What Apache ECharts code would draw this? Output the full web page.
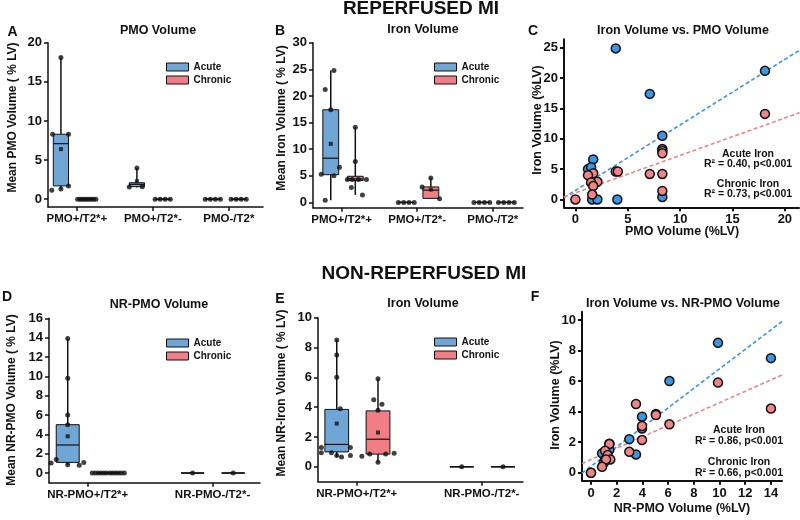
<!DOCTYPE html>
<html><head><meta charset="utf-8">
<script src="https://cdn.jsdelivr.net/npm/echarts@6/dist/echarts.min.js"></script>
<style>html,body{margin:0;padding:0;background:#fff}#c{width:800px;height:520px}</style>
</head><body><div id="c"></div><script>
// ---------- DATA ----------
// Box stats: [min, q1, median, q3, max]; points: [categoryIndex, value, jitterSlot]
const catsA = ['PMO+/T2*+', 'PMO+/T2*-', 'PMO-/T2*'];
const ticksA_y = [0, 5, 10, 15, 20];
const boxA_acute = [[1.3,1.7,7.1,8.3,18.1],[1.5,1.6,1.9,2.1,4.0],[0,0,0,0,0]];
const boxA_chronic = [[0,0,0,0,0],[0,0,0,0,0],[0,0,0,0,0]];
const meanA_acute = [6.4, 2.3, null];
const meanA_chronic = [null, null, null];
const ptsA_acute = [[0,18.1,0],[0,8.3,-1.1],[0,8.3,1],[0,1.7,1],[0,1.3,0],[0,1.15,-1.2],
  [1,4.0,0],[1,1.55,-1],[1,1.6,0.7],[2,0,-1],[2,0,-0.33],[2,0,0.33],[2,0,1]];
const ptsA_chronic = [[0,0,-1.2],[0,0,-0.9],[0,0,-0.6],[0,0,-0.3],[0,0,0],[0,0,0.3],[0,0,0.6],[0,0,0.9],[0,0,1.2],
  [1,0,-1],[1,0,-0.33],[1,0,0.33],[1,0,1],[2,0,-1],[2,0,-0.33],[2,0,0.33],[2,0,1]];

const catsB = ['PMO+/T2*+', 'PMO+/T2*-', 'PMO-/T2*'];
const ticksB_y = [0, 5, 10, 15, 20, 25, 30];
const boxB_acute = [[0.4,5.2,8.3,17.4,24.8],[0,0,0,0,0],[0,0,0,0,0]];
const boxB_chronic = [[1.4,4.1,4.4,4.9,14.1],[0.7,0.75,2.3,2.9,4.6],[0,0,0,0,0]];
const meanB_acute = [11.0, null, null];
const meanB_chronic = [null, 2.4, null];
const ptsB_acute = [[0,24.8,0.4],[0,21.2,-0.7],[0,17.4,0],[0,6.6,1.1],[0,5.3,-1.2],[0,5.0,0.4],[0,0.4,-0.7],
  [1,0,-1],[1,0,-0.33],[1,0,0.33],[1,0,1],[2,0,-1],[2,0,-0.33],[2,0,0.33],[2,0,1]];
const ptsB_chronic = [[0,14.1,0],[0,7.7,0],[0,4.3,-1],[0,4.3,-0.4],[0,4.3,0.4],[0,4.3,1.4],[0,2.8,-0.5],[0,1.4,0.9],
  [1,4.6,0],[1,2.9,-1.1],[1,0.7,1.1],[2,0,-1],[2,0,-0.33],[2,0,0.33],[2,0,1]];

const ticksC_x = [0, 5, 10, 15, 20];
const ticksC_y = [0, 5, 10, 15, 20, 25];
const c_acute = [[3.85,24.9],[7.1,17.4],[18.1,21.2],[8.3,10.5],[8.3,8.3],[1.7,6.6],[1.2,5.0],[1.5,5.3],[8.3,0.4],[1.6,0],[2.1,0],[4.0,0]];
const c_chronic = [[18.1,14.1],[8.3,8.0],[8.3,7.6],[7.1,4.2],[8.3,4.2],[8.3,1.4],[3.85,4.6],[4.05,4.6],[1.7,4.3],[1.2,4.0],[2.1,2.9],[1.5,2.8],[1.7,2.2],[1.6,0.8],[0,0]];
const c_acuteFit = [[-1.1,0.3],[21.4,24.6]];
const c_chronicFit = [[-1.1,0.4],[21.4,14.3]];
const c_notes = ['Acute Iron', 'R\u00b2 = 0.40, p<0.001', 'Chronic Iron', 'R\u00b2 = 0.73, p<0.001'];

const catsD = ['NR-PMO+/T2*+', 'NR-PMO-/T2*-'];
const ticksD_y = [0, 2, 4, 6, 8, 10, 12, 14, 16];
const boxD_acute = [[0.85,1.1,2.9,5.0,13.9],[0,0,0,0,0]];
const boxD_chronic = [[0,0,0,0,0],[0,0,0,0,0]];
const meanD_acute = [3.8, null];
const meanD_chronic = [null, null];
const ptsD_acute = [[0,13.9,0],[0,9.8,0],[0,6.0,0],[0,5.0,0],[0,1.05,-1.45],[0,1.4,-1],[0,0.85,0],[0,0.8,1],[0,1.1,1.4],[1,0,0]];
const ptsD_chronic = [[0,0,-1.4],[0,0,-1.15],[0,0,-0.9],[0,0,-0.65],[0,0,-0.4],[0,0,-0.15],[0,0,0.15],[0,0,0.4],[0,0,0.65],[0,0,0.9],[0,0,1.15],[0,0,1.4],[1,0,0]];

const catsE = ['NR-PMO+/T2*+', 'NR-PMO-/T2*-'];
const ticksE_y = [0, 2, 4, 6, 8, 10];
const boxE_acute = [[0.65,1.0,1.5,3.85,8.5],[0,0,0,0,0]];
const boxE_chronic = [[0.3,0.85,1.85,3.75,5.9],[0,0,0,0,0]];
const meanE_acute = [2.9, null];
const meanE_chronic = [2.3, null];
const ptsE_acute = [[0,8.5,0],[0,7.5,0],[0,6.0,0],[0,3.9,0.3],[0,1.3,-1.3],[0,0.95,-1.3],[0,0.95,-0.45],[0,0.75,0],[0,0.65,0.4],[0,1.3,1.15],[0,0.75,1.15],[1,0,0]];
const ptsE_chronic = [[0,5.9,0],[0,4.5,-0.36],[0,4.2,0.33],[0,3.8,0],[0,0.7,-1.36],[0,0.85,-0.7],[0,0.85,0.64],[0,0.9,1.36],[0,0.3,0],[1,0,0]];

const ticksF_x = [0, 2, 4, 6, 8, 10, 12, 14];
const ticksF_y = [0, 2, 4, 6, 8, 10];
const f_acute = [[9.88,8.5],[14.0,7.5],[6.1,6.0],[3.97,3.67],[3.97,2.9],[5.05,3.84],[2.98,2.2],[3.5,1.2],[1.43,1.9],[1.43,1.5],[0.86,1.27],[1.1,0.87],[1.0,0.65],[0,0]];
const f_chronic = [[9.88,5.9],[14.0,4.2],[3.5,4.5],[5.05,3.78],[6.1,3.17],[3.97,3.06],[3.97,2.14],[2.98,1.37],[1.43,1.88],[1.1,1.44],[1.3,1.16],[1.5,0.87],[1.17,0.87],[0.86,0.39],[0,0]];
const f_acuteFit = [[-0.7,-0.02],[14.86,9.9]];
const f_chronicFit = [[-0.7,0.6],[14.86,6.4]];
const f_notes = ['Acute Iron', 'R\u00b2 = 0.86, p<0.001', 'Chronic Iron', 'R\u00b2 = 0.66, p<0.001'];

// ---------- LAYOUT / STYLE ----------
const FONT = '"Liberation Sans", Arial, Helvetica, sans-serif';
const INK = '#111';
const COL = {acute:'#6fa6d6', chronic:'#f17d86', acuteDot:'#3b96e3', chronicDot:'#ee8587'};
const L = {
  A:{grid:{left:48,top:42.7,width:215,height:164.3}, x:[-0.38,2.45], y:[-1,20], off:[-0.21,0.13], bw:0.2},
  B:{grid:{left:313,top:42.7,width:210,height:165}, x:[-0.38,2.4], y:[-1,30], off:[-0.145,0.18], bw:0.21},
  C:{grid:{left:564,top:39.3,width:235,height:168}, x:[-1.09,21.35], y:[-1.3,26.4]},
  D:{grid:{left:49,top:318.3,width:211,height:164.4}, x:[-0.31,1.38], y:[-1,16], off:[-0.16,0.165], bw:0.184},
  E:{grid:{left:318,top:317.7,width:205,height:164}, x:[-0.31,1.33], y:[-1,10], off:[-0.16,0.17], bw:0.19},
  F:{grid:{left:582,top:311.7,width:200,height:169}, x:[-0.7,14.86], y:[-0.52,10.54]}
};
const ORDER = ['A','B','C','D','E','F'];

function axisBase(gi, range, ticks, lw, fs, fmt){
  return {type:'value', gridIndex:gi, min:range[0], max:range[1],
    axisLine:{show:true, onZero:false, lineStyle:{color:INK, width:lw}},
    axisTick:{show:true, length:4, customValues:ticks, lineStyle:{color:INK, width:lw}},
    axisLabel:{customValues:ticks, margin:6, color:INK, fontWeight:'bold', fontSize:fs, fontFamily:FONT, formatter:fmt},
    splitLine:{show:false}};
}

function boxSeries(name, gi, stats, offset, bw, color){
  return {type:'custom', name, xAxisIndex:gi, yAxisIndex:gi, z:2, silent:true,
    itemStyle:{color},
    data: stats.map((s,i)=>[i+offset, s[0], s[1], s[2], s[3], s[4]]),
    encode:{x:0, y:[1,2,3,4,5]},
    renderItem:(params, api)=>{
      const x = api.value(0);
      const pMin = api.coord([x, api.value(1)]);
      const pQ1 = api.coord([x, api.value(2)]);
      const pMed = api.coord([x, api.value(3)]);
      const pQ3 = api.coord([x, api.value(4)]);
      const pMax = api.coord([x, api.value(5)]);
      const hw = api.size([bw, 0])[0] / 2;
      return {type:'group', children:[
        {type:'line', shape:{x1:pMin[0], y1:pMin[1], x2:pMax[0], y2:pMax[1]}, style:{stroke:INK, lineWidth:1.5}},
        {type:'rect', shape:{x:pQ3[0]-hw, y:pQ3[1], width:2*hw, height:pQ1[1]-pQ3[1]}, style:{fill:color, stroke:INK, lineWidth:1}},
        {type:'line', shape:{x1:pMed[0]-hw, y1:pMed[1], x2:pMed[0]+hw, y2:pMed[1]}, style:{stroke:INK, lineWidth:1.2}}
      ]};
    }};
}
function ptSeries(gi, pts, offset, bw){
  return {type:'scatter', xAxisIndex:gi, yAxisIndex:gi, z:4, silent:true, symbolSize:5,
    itemStyle:{color:INK}, data: pts.map(p=>[p[0]+offset+p[2]*bw/2, p[1]])};
}
function meanSeries(gi, means, offset){
  return {type:'scatter', xAxisIndex:gi, yAxisIndex:gi, z:4, silent:true, symbol:'rect', symbolSize:4,
    itemStyle:{color:INK}, data: means.map((m,i)=> m==null ? null : [i+offset, m]).filter(Boolean)};
}
function dotSeries(name, gi, data, color){
  return {type:'scatter', name, xAxisIndex:gi, yAxisIndex:gi, z:4, silent:true, symbolSize:9,
    itemStyle:{color, borderColor:INK, borderWidth:1.5, opacity:1}, data};
}
function fitSeries(gi, data, color){
  return {type:'line', xAxisIndex:gi, yAxisIndex:gi, z:3, silent:true, symbol:'none',
    lineStyle:{color, width:1.6, type:[4,2.5]}, data};
}
function legend(left, top){
  return {left, top, orient:'vertical', itemGap:3, itemWidth:22, itemHeight:8, padding:0, selectedMode:false,
    textStyle:{fontWeight:'bold', fontSize:10, color:INK, fontFamily:FONT},
    data:[{name:'Acute', icon:'rect', itemStyle:{color:COL.acute, borderColor:INK, borderWidth:1}},
          {name:'Chronic', icon:'rect', itemStyle:{color:COL.chronic, borderColor:INK, borderWidth:1}}]};
}
function txt(text, x, y, size, rot){
  return {type:'text', x, y, rotation: rot || 0, silent:true,
    style:{text, font:'bold '+size+'px '+FONT, fill:INK, textAlign:'center', textVerticalAlign:'middle', align:'center', verticalAlign:'middle'}};
}

// ---------- BUILD ----------
const grids = ORDER.map(k => Object.assign({show:false, containLabel:false, outerBoundsMode:'none'}, L[k].grid));
const catFmt = cats => v => cats[Math.round(v)] || '';
const xAxes = [
  axisBase(0, L.A.x, [0,1,2], 1.5, 11.5, catFmt(catsA)),
  axisBase(1, L.B.x, [0,1,2], 1.5, 11.5, catFmt(catsB)),
  axisBase(2, L.C.x, ticksC_x, 2, 13),
  axisBase(3, L.D.x, [0,1], 1.5, 11.5, catFmt(catsD)),
  axisBase(4, L.E.x, [0,1], 1.5, 11.5, catFmt(catsE)),
  axisBase(5, L.F.x, ticksF_x, 2, 13)
];
const yAxes = [
  axisBase(0, L.A.y, ticksA_y, 1.5, 13),
  axisBase(1, L.B.y, ticksB_y, 1.5, 13),
  axisBase(2, L.C.y, ticksC_y, 2, 13),
  axisBase(3, L.D.y, ticksD_y, 1.5, 13),
  axisBase(4, L.E.y, ticksE_y, 1.5, 13),
  axisBase(5, L.F.y, ticksF_y, 2, 13)
];

function boxPanel(gi, lay, bA, bC, mA, mC, pA, pC){
  return [
    boxSeries('Acute', gi, bA, lay.off[0], lay.bw, COL.acute),
    boxSeries('Chronic', gi, bC, lay.off[1], lay.bw, COL.chronic),
    ptSeries(gi, pA, lay.off[0], lay.bw),
    ptSeries(gi, pC, lay.off[1], lay.bw),
    meanSeries(gi, mA, lay.off[0]),
    meanSeries(gi, mC, lay.off[1])
  ];
}

const series = [].concat(
  boxPanel(0, L.A, boxA_acute, boxA_chronic, meanA_acute, meanA_chronic, ptsA_acute, ptsA_chronic),
  boxPanel(1, L.B, boxB_acute, boxB_chronic, meanB_acute, meanB_chronic, ptsB_acute, ptsB_chronic),
  [fitSeries(2, c_acuteFit, COL.acuteDot), fitSeries(2, c_chronicFit, COL.chronicDot),
   dotSeries('Acute Iron', 2, c_acute, COL.acuteDot), dotSeries('Chronic Iron', 2, c_chronic, COL.chronicDot)],
  boxPanel(3, L.D, boxD_acute, boxD_chronic, meanD_acute, meanD_chronic, ptsD_acute, ptsD_chronic),
  boxPanel(4, L.E, boxE_acute, boxE_chronic, meanE_acute, meanE_chronic, ptsE_acute, ptsE_chronic),
  [fitSeries(5, f_acuteFit, COL.acuteDot), fitSeries(5, f_chronicFit, COL.chronicDot),
   dotSeries('Acute Iron', 5, f_acute, COL.acuteDot), dotSeries('Chronic Iron', 5, f_chronic, COL.chronicDot)]
);

const R90 = Math.PI / 2;
const graphics = [
  txt('REPERFUSED MI', 421, 8.5, 19),
  txt('NON-REPERFUSED MI', 424, 274, 19),
  txt('A', 12.5, 32.5, 14), txt('B', 280, 31.5, 14), txt('C', 533, 31, 14),
  txt('D', 7, 297, 14), txt('E', 280, 299, 14), txt('F', 535, 297, 14),
  txt('PMO Volume', 158, 31, 12.5),
  txt('Iron Volume', 423, 30, 12.5),
  txt('Iron Volume vs. PMO Volume', 683, 31, 12.5),
  txt('NR-PMO Volume', 159, 305, 12.5),
  txt('Iron Volume', 423, 304, 12.5),
  txt('Iron Volume vs. NR-PMO Volume', 683, 304, 12.5),
  txt('Mean PMO Volume ( % LV)', 13, 117.5, 12, R90),
  txt('Mean Iron Volume ( % LV)', 282, 118, 12, R90),
  txt('Iron Volume (%LV)', 538, 120, 12.5, R90),
  txt('Mean NR-PMO Volume ( % LV)', 12, 400, 12, R90),
  txt('Mean NR-Iron Volume ( % LV)', 282, 393, 12, R90),
  txt('Iron Volume (%LV)', 556, 395, 12.5, R90),
  txt('PMO Volume (%LV)', 682, 232, 12.5),
  txt('NR-PMO Volume (%LV)', 682, 509, 12.5),
  txt(c_notes[0], 748, 154, 10.5), txt(c_notes[1], 748, 164.5, 10.5),
  txt(c_notes[2], 748, 184, 10.5), txt(c_notes[3], 748, 194.5, 10.5),
  txt(f_notes[0], 739, 430, 10.5), txt(f_notes[1], 739, 441.5, 10.5),
  txt(f_notes[2], 739, 462, 10.5), txt(f_notes[3], 739, 473, 10.5)
];

const chart = echarts.init(document.getElementById('c'), null, {renderer:'canvas', width:800, height:520});
chart.setOption({
  backgroundColor:'#fff',
  animation:false,
  textStyle:{fontFamily:FONT},
  grid: grids,
  xAxis: xAxes,
  yAxis: yAxes,
  legend: [legend(166,62), legend(434,62), legend(166,338), legend(434,337)],
  series,
  graphic: graphics
});
</script></body></html>
